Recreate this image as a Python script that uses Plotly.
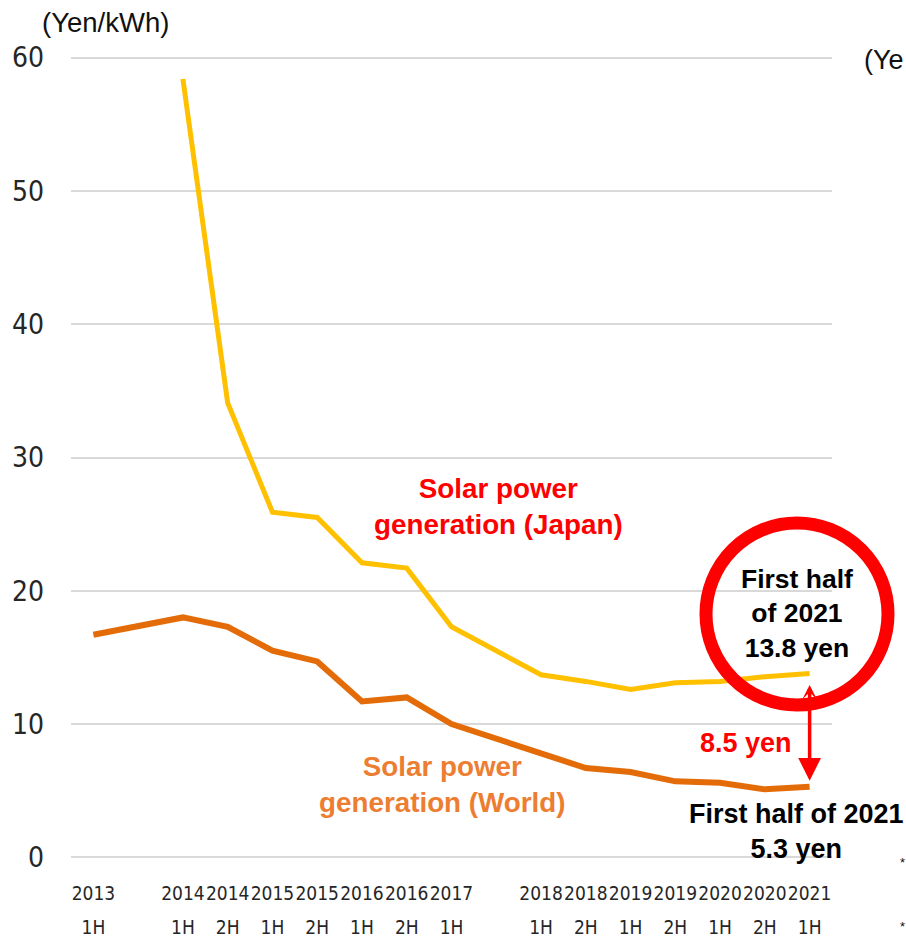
import plotly.graph_objects as go

# Half-year periods: (year, half); empty entries are periods without a tick label
periods = [("2013", "1H"), None, ("2014", "1H"), ("2014", "2H"), ("2015", "1H"),
           ("2015", "2H"), ("2016", "1H"), ("2016", "2H"), ("2017", "1H"), None,
           ("2018", "1H"), ("2018", "2H"), ("2019", "1H"), ("2019", "2H"),
           ("2020", "1H"), ("2020", "2H"), ("2021", "1H")]

# Solar generation cost, Yen/kWh
japan = [None, None, 58.4, 34.1, 25.9, 25.5, 22.1, 21.7, 17.3, None,
         13.7, 13.2, 12.6, 13.1, 13.2, 13.55, 13.8]
world = [16.7, None, 18.0, 17.3, 15.5, 14.7, 11.7, 12.0, 10.0, None,
         7.8, 6.7, 6.4, 5.7, 5.6, 5.1, 5.3]

y_ticks = [0, 10, 20, 30, 40, 50, 60]

xs = list(range(len(periods)))
tickvals = [i for i, p in enumerate(periods) if p]
# small glyphs on a taller line pitch
span = "<span style='font-size:19px'>%s</span>"
ticktext = [(span % p[0]) + "<br>" + (span % p[1]) for p in periods if p]

W, H = 906, 940
ML, MR, MT, MB = 71, 74, 51, 76
PW, PH = W - ML - MR, H - MT - MB


def px_x(px):
    return (px - ML) / PW


def px_y(py):
    return (H - MB - py) / PH


fig = go.Figure()
fig.add_trace(go.Scatter(x=xs, y=world, mode="lines", connectgaps=True,
                         line=dict(color="#E36C09", width=6), hoverinfo="skip"))
fig.add_trace(go.Scatter(x=xs, y=japan, mode="lines", connectgaps=True,
                         line=dict(color="#FFC000", width=5), hoverinfo="skip"))

bold = "Liberation Sans, Arial, sans-serif"
tick_font = "Liberation Sans Narrow, DejaVu Sans Condensed, sans-serif"
annotations = [
    dict(text="(Yen/kWh)", x=px_x(40), y=px_y(22), xanchor="left", yanchor="middle",
         font=dict(family=bold, size=27.5, color="#111111")),
    dict(text="(Ye", x=px_x(862), y=px_y(60), xanchor="left", yanchor="middle",
         font=dict(family=bold, size=27, color="#111111")),
    dict(text="Solar power<br>generation (Japan)", x=px_x(498), y=px_y(507),
         xanchor="center", yanchor="middle",
         font=dict(family=bold, size=27.8, color="#FF0000", weight="bold")),
    dict(text="Solar power<br>generation (World)", x=px_x(442), y=px_y(784),
         xanchor="center", yanchor="middle",
         font=dict(family=bold, size=27.8, color="#ED7D31", weight="bold")),
    dict(text="First half<br>of 2021<br>%.1f yen" % japan[-1], x=px_x(797), y=px_y(613),
         xanchor="center", yanchor="middle",
         font=dict(family=bold, size=26.5, color="#000000", weight="bold")),
    dict(text="%.1f yen" % (japan[-1] - world[-1]), x=px_x(746), y=px_y(743),
         xanchor="center", yanchor="middle",
         font=dict(family=bold, size=27, color="#FF0000", weight="bold")),
    dict(text="First half of 2021<br>%.1f yen" % world[-1], x=px_x(796), y=px_y(831),
         xanchor="center", yanchor="middle",
         font=dict(family=bold, size=27, color="#000000", weight="bold")),
    dict(text="*", x=px_x(898), y=px_y(862), xanchor="left", yanchor="middle",
         font=dict(family=bold, size=13, color="#111111")),
    dict(text="*", x=px_x(898), y=px_y(926), xanchor="left", yanchor="middle",
         font=dict(family=bold, size=13, color="#111111")),
]
for a in annotations:
    a.update(xref="paper", yref="paper", showarrow=False)

# Gap arrow between the two 2021 values
annotations.append(dict(
    x=xs[-1], y=world[-1], ax=xs[-1], ay=japan[-1], xref="x", yref="y",
    axref="x", ayref="y", text="", showarrow=True, arrowside="end+start",
    arrowhead=2, arrowsize=1.3, arrowwidth=3.5, arrowcolor="#FF0000",
    startarrowhead=3, startarrowsize=0.7, standoff=6, startstandoff=10))

fig.update_layout(
    width=W, height=H,
    margin=dict(l=ML, r=MR, t=MT, b=MB, autoexpand=False),
    paper_bgcolor="white", plot_bgcolor="white",
    showlegend=False,
    annotations=annotations,
    shapes=[dict(type="circle", xref="paper", yref="paper",
                 x0=px_x(797 - 91), x1=px_x(797 + 91),
                 y0=px_y(614 + 91), y1=px_y(614 - 91),
                 line=dict(color="#FF0000", width=13))],
    xaxis=dict(range=[-0.5, 16.5], tickvals=tickvals, ticktext=ticktext,
               tickangle=0, automargin=False,
               showgrid=False, zeroline=False, showline=False, ticks="",
               ticklabelstandoff=9,
               tickfont=dict(family=tick_font, size=26, color="#262626")),
    yaxis=dict(range=[-0.5, 60.5], tickvals=y_ticks, showgrid=True, automargin=False,
               gridcolor="#D9D9D9", gridwidth=2, zeroline=False, showline=False,
               ticks="", ticklabelstandoff=26,
               tickfont=dict(family=tick_font, size=28, color="#262626")),
)

fig.write_html("out.html")
